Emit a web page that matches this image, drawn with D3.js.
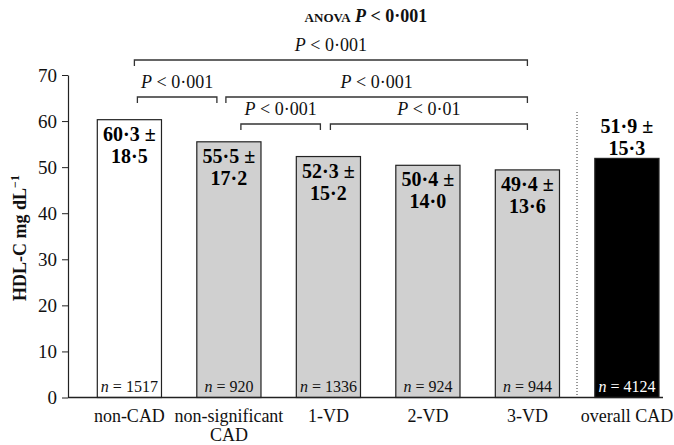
<!DOCTYPE html>
<html>
<head>
<meta charset="utf-8">
<script src="https://cdn.jsdelivr.net/npm/d3@7"></script>
<style>
  body { margin: 0; background: #fff; }
  svg text { font-family: "Liberation Serif", "Times New Roman", serif; }
</style>
</head>
<body>
<div id="chart"></div>
<script>
var categories = ["non-CAD", "non-significant CAD", "1-VD", "2-VD", "3-VD", "overall CAD"],
    axisLabels = [["non-CAD"], ["non-significant", "CAD"], ["1-VD"], ["2-VD"], ["3-VD"], ["overall CAD"]],
    means = [60.3, 55.5, 52.3, 50.4, 49.4, 51.9],
    sds = [18.5, 17.2, 15.2, 14.0, 13.6, 15.3],
    counts = [1517, 920, 1336, 924, 944, 4124],
    yTicks = [0, 10, 20, 30, 40, 50, 60, 70];

// comparisons: [from, to, level, p-value text]
var comparisons = [
    ["non-CAD", "3-VD", 0, "0·001"],
    ["non-CAD", "non-significant CAD", 1, "0·001"],
    ["non-significant CAD", "3-VD", 1, "0·001"],
    ["non-significant CAD", "1-VD", 2, "0·001"],
    ["1-VD", "3-VD", 2, "0·01"]
];

var width = 674, height = 445;
var fills = ["#ffffff", "#d0d0d0", "#d0d0d0", "#d0d0d0", "#d0d0d0", "#000000"];
// small pixel nudges for the bracket ends (left, right)
var bracketNudge = [[5, 0], [8, -12], [-3, 0], [12, -8], [2, 0]];
var levelY = [60, 97, 124];

var svg = d3.select("#chart").append("svg")
    .attr("width", width)
    .attr("height", height);

var x = d3.scaleBand()
    .domain(categories)
    .range([97.3, 659])
    .paddingInner(0.355)
    .paddingOuter(0);

var y = d3.scaleLinear()
    .domain([0, 70])
    .range([397.5, 75]);

var fmt = function(v) { return v.toFixed(1).replace(".", "·"); };

// y axis
var yAxis = d3.axisLeft(y).tickValues(yTicks).tickSize(6).tickSizeOuter(0).tickPadding(5);
var gy = svg.append("g")
    .attr("transform", "translate(68,0)")
    .call(yAxis);
gy.select(".domain").attr("stroke", "#222").attr("stroke-width", 1.2);
gy.selectAll(".tick line").attr("stroke", "#222");
gy.selectAll(".tick text")
    .attr("font-size", 19)
    .attr("fill", "#111")
    .style("font-family", "'Liberation Serif', serif");

// y label
var yl = svg.append("text")
    .attr("transform", "translate(26,238) rotate(-90)")
    .attr("text-anchor", "middle")
    .attr("font-size", 18)
    .attr("font-weight", "bold")
    .attr("fill", "#111");
yl.append("tspan").text("HDL-C mg dL");
yl.append("tspan").attr("font-size", 12).attr("dy", -7).text("−1");

// separator before overall CAD
svg.append("line")
    .attr("x1", 577).attr("x2", 577)
    .attr("y1", 112).attr("y2", y(0))
    .attr("stroke", "#333")
    .attr("stroke-width", 1)
    .attr("stroke-dasharray", "1,2");

// bars
svg.selectAll(".bar")
    .data(categories)
    .enter().append("rect")
    .attr("class", "bar")
    .attr("x", function(d) { return x(d); })
    .attr("width", x.bandwidth())
    .attr("y", function(d, i) { return y(means[i]); })
    .attr("height", function(d, i) { return y(0) - y(means[i]); })
    .attr("fill", function(d, i) { return fills[i]; })
    .attr("stroke", "#222")
    .attr("stroke-width", 1.2);

// x baseline
svg.append("line")
    .attr("x1", 68).attr("x2", 663)
    .attr("y1", y(0)).attr("y2", y(0))
    .attr("stroke", "#222")
    .attr("stroke-width", 1.5);

// mean ± sd labels
categories.forEach(function(c, i) {
    var cx = x(c) + x.bandwidth() / 2,
        top = y(means[i]),
        inside = i < 5,
        y1 = inside ? top + 21 : top - 25;
    var t = svg.append("text")
        .attr("text-anchor", "middle")
        .attr("font-size", 20)
        .attr("font-weight", "bold")
        .attr("fill", "#000");
    t.append("tspan").attr("x", cx).attr("y", y1).text(fmt(means[i]) + " ±");
    t.append("tspan").attr("x", cx).attr("y", y1 + 22).text(fmt(sds[i]));
});

// n labels
categories.forEach(function(c, i) {
    var t = svg.append("text")
        .attr("x", x(c) + x.bandwidth() / 2)
        .attr("y", 392)
        .attr("text-anchor", "middle")
        .attr("font-size", 16)
        .attr("fill", i === 5 ? "#fff" : "#111");
    t.append("tspan").attr("font-style", "italic").text("n");
    t.append("tspan").text(" = " + counts[i]);
});

// category labels
categories.forEach(function(c, i) {
    var t = svg.append("text")
        .attr("text-anchor", "middle")
        .attr("font-size", 18)
        .attr("fill", "#111");
    axisLabels[i].forEach(function(line, j) {
        t.append("tspan")
            .attr("x", x(c) + x.bandwidth() / 2)
            .attr("y", 422 + j * 19)
            .text(line);
    });
});

// comparison brackets
comparisons.forEach(function(cmp, k) {
    var x1 = x(cmp[0]) + x.bandwidth() / 2 + bracketNudge[k][0],
        x2 = x(cmp[1]) + x.bandwidth() / 2 + bracketNudge[k][1],
        by = levelY[cmp[2]];
    svg.append("path")
        .attr("d", "M" + x1 + "," + (by + 6) + "V" + by + "H" + x2 + "V" + (by + 6))
        .attr("fill", "none")
        .attr("stroke", "#333")
        .attr("stroke-width", 1.3);
    var t = svg.append("text")
        .attr("x", (x1 + x2) / 2)
        .attr("y", by - 9)
        .attr("text-anchor", "middle")
        .attr("font-size", 18)
        .attr("fill", "#111");
    t.append("tspan").attr("font-style", "italic").text("P");
    t.append("tspan").text(" < " + cmp[3]);
});

// title
var title = svg.append("text")
    .attr("x", 366)
    .attr("y", 22)
    .attr("text-anchor", "middle")
    .attr("font-size", 18)
    .attr("font-weight", "bold")
    .attr("fill", "#111");
title.append("tspan").attr("font-variant", "small-caps").text("anova ");
title.append("tspan").attr("font-style", "italic").text("P");
title.append("tspan").text(" < 0·001");
</script>
</body>
</html>
